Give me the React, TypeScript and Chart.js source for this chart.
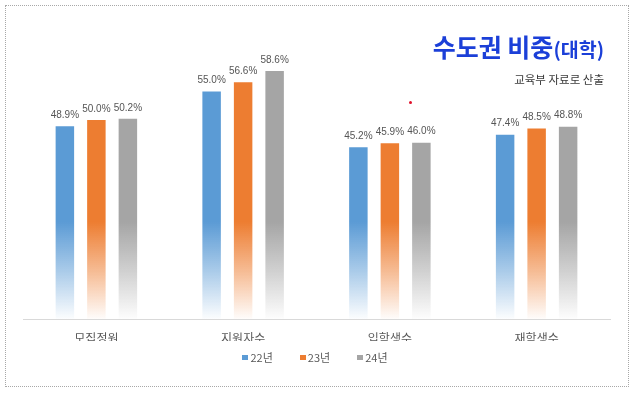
import React, { useEffect, useRef } from "react";
import { Chart, registerables } from "chart.js";

Chart.register(...registerables);

const categories = ["모집정원", "지원자수", "입학생수", "재학생수"];
const seriesLabels = ["22년", "23년", "24년"];
const values22 = [48.9, 55.0, 45.2, 47.4];
const values23 = [50.0, 56.6, 45.9, 48.5];
const values24 = [50.2, 58.6, 46.0, 48.8];
const seriesColors = ["#5B9BD5", "#ED7D31", "#A5A5A5"];
const yMin = 15;
const yMax = 60;

const KFONT = "'Noto Sans CJK KR', 'Noto Sans', sans-serif";

function hexToRgb(hex: string) {
  const h = hex.replace("#", "");
  return [parseInt(h.slice(0, 2), 16), parseInt(h.slice(2, 4), 16), parseInt(h.slice(4, 6), 16)];
}

function gradientFor(color: string) {
  return (ctx: any) => {
    const chart = ctx.chart;
    const area = chart.chartArea;
    if (!area) return color;
    const [r, g, b] = hexToRgb(color);
    const grad = chart.ctx.createLinearGradient(0, area.top, 0, area.bottom);
    grad.addColorStop(0, `rgba(${r},${g},${b},1)`);
    grad.addColorStop(0.62, `rgba(${r},${g},${b},1)`);
    grad.addColorStop(0.82, `rgba(${r},${g},${b},0.5)`);
    grad.addColorStop(1, `rgba(${r},${g},${b},0.02)`);
    return grad;
  };
}

const dataLabelPlugin = {
  id: "dataLabels",
  afterDatasetsDraw(chart: any) {
    const ctx = chart.ctx;
    ctx.save();
    ctx.font = "10px 'Liberation Sans', Arial, sans-serif";
    ctx.fillStyle = "#555555";
    ctx.textAlign = "center";
    ctx.textBaseline = "bottom";
    chart.data.datasets.forEach((ds: any, di: number) => {
      const meta = chart.getDatasetMeta(di);
      meta.data.forEach((el: any, i: number) => {
        const v = ds.data[i];
        ctx.fillText(v.toFixed(1) + "%", el.x, el.y - 6);
      });
    });
    ctx.restore();
  },
};

export default function App() {
  const canvasRef = useRef<HTMLCanvasElement | null>(null);

  useEffect(() => {
    if (!canvasRef.current) return;
    const allValues = [values22, values23, values24];
    const chart = new Chart(canvasRef.current, {
      type: "bar",
      data: {
        labels: categories,
        datasets: seriesLabels.map((label, i) => ({
          label,
          data: allValues[i],
          backgroundColor: gradientFor(seriesColors[i]),
          borderWidth: 0,
          categoryPercentage: 0.644,
          barPercentage: 0.587,
        })),
      },
      options: {
        responsive: false,
        animation: false,
        devicePixelRatio: 1,
        layout: { padding: { left: 23, right: 30, top: 63, bottom: 58 } },
        plugins: {
          legend: { display: false },
          title: { display: false },
          tooltip: { enabled: false },
        },
        scales: {
          x: {
            grid: { display: false, drawTicks: false },
            border: { display: true, color: "#d9d9d9", width: 1 },
            ticks: {
              padding: 12,
              color: "#595959",
              font: { size: 12, family: KFONT },
            },
            afterFit: (s: any) => {
              s.height = 22;
            },
          },
          y: {
            display: false,
            min: yMin,
            max: yMax,
          },
        },
      },
      plugins: [dataLabelPlugin],
    });
    return () => chart.destroy();
  }, []);

  return (
    <div
      style={{
        position: "absolute",
        left: 0,
        top: 0,
        width: 640,
        height: 399,
        background: "#fff",
        overflow: "hidden",
      }}
    >
      <div
        style={{
          position: "absolute",
          left: 5,
          top: 5,
          width: 622,
          height: 380,
          border: "1px dotted #a8a8a8",
        }}
      />
      <canvas
        ref={canvasRef}
        width={640}
        height={399}
        style={{ position: "absolute", left: 0, top: 0, width: 640, height: 399 }}
      />
      <div
        style={{
          position: "absolute",
          right: 36,
          top: 33,
          fontFamily: KFONT,
          fontWeight: 700,
          color: "#1b3fd8",
          whiteSpace: "nowrap",
          lineHeight: "26px",
        }}
      >
        <span style={{ fontSize: 25 }}>수도권 비중</span>
        <span style={{ fontSize: 19.5 }}>(대학)</span>
      </div>
      <div
        style={{
          position: "absolute",
          right: 36,
          top: 72,
          fontFamily: KFONT,
          fontSize: 11.5,
          lineHeight: "14px",
          color: "#3a3a3a",
          whiteSpace: "nowrap",
        }}
      >
        교육부 자료로 산출
      </div>
      <div
        style={{
          position: "absolute",
          left: 0,
          top: 349,
          width: 630,
          display: "flex",
          justifyContent: "center",
          gap: 27,
          fontFamily: KFONT,
          fontSize: 11,
          lineHeight: "16px",
          color: "#595959",
        }}
      >
        {seriesLabels.map((l, i) => (
          <div key={l} style={{ display: "flex", alignItems: "center" }}>
            <span
              style={{
                display: "inline-block",
                width: 6,
                height: 5,
                background: seriesColors[i],
                marginRight: 2,
              }}
            />
            <span>{l}</span>
          </div>
        ))}
      </div>
      <div
        style={{
          position: "absolute",
          left: 409,
          top: 101,
          width: 3,
          height: 3,
          borderRadius: 2,
          background: "#e0102a",
        }}
      />
    </div>
  );
}
